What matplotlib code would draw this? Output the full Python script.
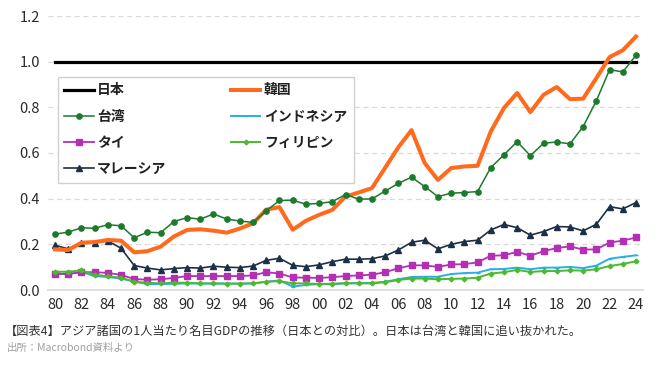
import matplotlib
matplotlib.use("Agg")
import matplotlib.pyplot as plt

plt.rcParams['font.family'] = ['Noto Sans CJK JP', 'DejaVu Sans']

years = list(range(1980, 2025))
tick_years = list(range(1980, 2025, 2))
tick_labels = [f"{y % 100:02d}" for y in tick_years]

japan = [1.0] * len(years)
korea = [0.178, 0.175, 0.207, 0.210, 0.219, 0.216, 0.165, 0.170, 0.190, 0.234,
         0.263, 0.266, 0.260, 0.251, 0.269, 0.292, 0.352, 0.363, 0.264, 0.303,
         0.329, 0.351, 0.409, 0.427, 0.446, 0.535, 0.625, 0.700, 0.556, 0.482,
         0.534, 0.541, 0.544, 0.694, 0.797, 0.863, 0.779, 0.855, 0.889, 0.836,
         0.838, 0.928, 1.020, 1.050, 1.110]
taiwan = [0.245, 0.253, 0.273, 0.270, 0.286, 0.281, 0.229, 0.253, 0.251, 0.300,
          0.317, 0.310, 0.333, 0.311, 0.302, 0.296, 0.347, 0.392, 0.393, 0.376,
          0.379, 0.387, 0.418, 0.398, 0.399, 0.433, 0.467, 0.494, 0.453, 0.409,
          0.424, 0.427, 0.431, 0.536, 0.592, 0.650, 0.588, 0.643, 0.648, 0.640,
          0.716, 0.829, 0.965, 0.955, 1.028]
indonesia = [0.070, 0.070, 0.079, 0.061, 0.057, 0.050, 0.037, 0.026, 0.026, 0.027,
             0.029, 0.028, 0.028, 0.028, 0.028, 0.029, 0.036, 0.042, 0.015, 0.022,
             0.026, 0.025, 0.029, 0.030, 0.031, 0.036, 0.047, 0.057, 0.058, 0.058,
             0.070, 0.074, 0.076, 0.091, 0.092, 0.098, 0.091, 0.098, 0.098, 0.101,
             0.096, 0.107, 0.137, 0.145, 0.152]
thailand = [0.072, 0.070, 0.078, 0.078, 0.075, 0.066, 0.048, 0.045, 0.047, 0.053,
            0.061, 0.061, 0.061, 0.061, 0.061, 0.064, 0.078, 0.072, 0.055, 0.054,
            0.053, 0.056, 0.061, 0.064, 0.067, 0.078, 0.095, 0.108, 0.108, 0.101,
            0.112, 0.113, 0.121, 0.150, 0.152, 0.167, 0.150, 0.170, 0.184, 0.191,
            0.177, 0.178, 0.208, 0.216, 0.230]
philippines = [0.080, 0.080, 0.086, 0.067, 0.060, 0.054, 0.036, 0.032, 0.029, 0.032,
               0.032, 0.029, 0.029, 0.028, 0.028, 0.029, 0.036, 0.039, 0.029, 0.029,
               0.026, 0.028, 0.030, 0.029, 0.029, 0.034, 0.044, 0.050, 0.050, 0.047,
               0.049, 0.050, 0.054, 0.072, 0.078, 0.088, 0.079, 0.083, 0.083, 0.086,
               0.085, 0.091, 0.105, 0.114, 0.126]
malaysia = [0.196, 0.180, 0.207, 0.207, 0.215, 0.183, 0.107, 0.096, 0.088, 0.094,
            0.098, 0.096, 0.104, 0.100, 0.098, 0.105, 0.130, 0.139, 0.108, 0.102,
            0.110, 0.124, 0.135, 0.135, 0.137, 0.149, 0.175, 0.209, 0.218, 0.180,
            0.200, 0.212, 0.218, 0.263, 0.287, 0.273, 0.240, 0.256, 0.278, 0.276,
            0.259, 0.288, 0.365, 0.355, 0.383]

names = ['日本', '韓国', '台湾', 'インドネシア', 'タイ', 'フィリピン', 'マレーシア']
y_ticks = [0.0, 0.2, 0.4, 0.6, 0.8, 1.0, 1.2]
caption = '【図表4】アジア諸国の1人当たり名目GDPの推移（日本との対比）。日本は台湾と韓国に追い抜かれた。'
source = '出所：Macrobond資料より'

fig = plt.figure(figsize=(6.6, 3.65), dpi=100)
ax = fig.add_axes([48.4 / 660, 75 / 365, (642.6 - 48.4) / 660, 274 / 365])

ax.set_xlim(1979.5, 2024.5)
ax.set_ylim(0, 1.2)
ax.set_yticks(y_ticks)
ax.set_yticklabels([f"{v:.1f}" for v in y_ticks])
ax.set_xticks(tick_years)
ax.set_xticklabels(tick_labels)
ax.tick_params(length=0, labelsize=10.5, labelcolor='#2a2a2a', pad=6)
for s in ['top', 'right', 'left']:
    ax.spines[s].set_visible(False)
ax.spines['bottom'].set_color('#d9d9d9')
ax.spines['bottom'].set_linewidth(1.2)
for v in y_ticks[1:]:
    ax.axhline(v, color='#d9d9d9', lw=0.9, ls=(0, (4, 3)), zorder=0)

h_jp, = ax.plot(years, japan, color='#000000', lw=2.3, zorder=3)
h_kr, = ax.plot(years, korea, color='#ff6a1c', lw=2.9, zorder=4)
h_tw, = ax.plot(years, taiwan, color='#1b7a2c', lw=1.1, marker='o', ms=3.8, zorder=5)
h_id, = ax.plot(years, indonesia, color='#2aaeea', lw=1.4, marker='_', ms=3, zorder=3)
h_th, = ax.plot(years, thailand, color='#b52fb5', lw=1.3, marker='s', ms=3.8, zorder=3)
h_ph, = ax.plot(years, philippines, color='#4cba2c', lw=1.4, marker='D', ms=2.4, zorder=3)
h_my, = ax.plot(years, malaysia, color='#1c3048', lw=1.2, marker='^', ms=3.8, zorder=3)

handles = [h_jp, h_tw, h_th, h_my, h_kr, h_id, h_ph]
labels = [names[0], names[2], names[4], names[6], names[1], names[3], names[5]]
leg = ax.legend(handles, labels, ncol=2, loc='upper left',
                bbox_to_anchor=(57.5 / 660, (365 - 182.5) / 365, (354 - 57.5) / 660, 106 / 365),
                bbox_transform=fig.transFigure, mode='expand',
                prop={'size': 10, 'weight': 'bold'}, handlelength=2.1,
                handletextpad=0.25, labelspacing=0.88, borderpad=0.5,
                fancybox=False, framealpha=1, edgecolor='#d0d0d0',
                borderaxespad=0, columnspacing=1.0)
leg.get_frame().set_linewidth(1.0)
for t in leg.get_texts():
    t.set_color('#222222')

fig.text(5 / 660, 1 - 331 / 365, caption, fontsize=8.8, color='#333333', va='center', ha='left')
fig.text(7 / 660, 1 - 348 / 365, source, fontsize=7.5, color='#a0a0a0', va='center', ha='left')

fig.savefig('out.png', dpi=100)
